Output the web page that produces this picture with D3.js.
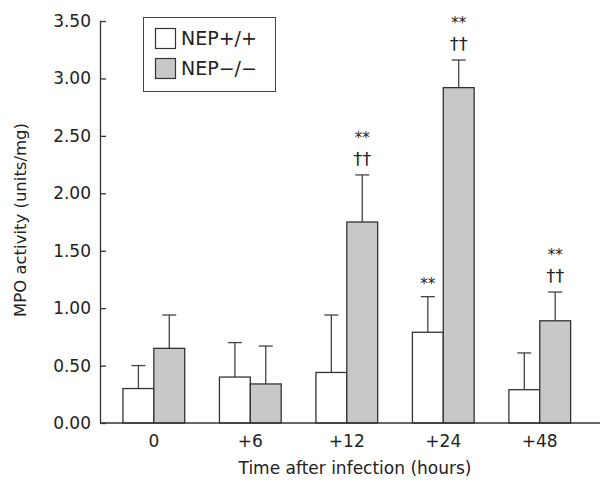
<!DOCTYPE html>
<html>
<head>
<meta charset="utf-8">
<script src="https://cdn.jsdelivr.net/npm/d3@7"></script>
<style>
  body { margin: 0; background: #fff; }
  text { font-family: "DejaVu Sans", sans-serif; fill: #222; }
</style>
</head>
<body>
<script>
const categories = ["0", "+6", "+12", "+24", "+48"];
const seriesNames = ["NEP+/+", "NEP\u2212/\u2212"];
const wildMeans = [0.30, 0.40, 0.44, 0.79, 0.29];
const wildErrors = [0.20, 0.30, 0.50, 0.31, 0.32];
const knockMeans = [0.65, 0.34, 1.75, 2.92, 0.89];
const knockErrors = [0.29, 0.33, 0.41, 0.24, 0.25];
const wildStars = ["", "", "", "**", ""];
const knockStars = ["", "", "**", "**", "**"];
const knockDaggers = ["", "", "\u2020\u2020", "\u2020\u2020", "\u2020\u2020"];
const yTicks = [0, 0.5, 1, 1.5, 2, 2.5, 3, 3.5];

const width = 600;
const height = 482;
const fills = ["#ffffff", "#c8c8c9"];

const svg = d3.select("body").append("svg")
  .attr("width", width)
  .attr("height", height);

const y = d3.scaleLinear().domain([0, 3.5]).range([423, 21]);

const x = d3.scaleBand()
  .domain(categories)
  .range([105.6, 588])
  .paddingInner(0.36)
  .paddingOuter(0.18);

const sub = d3.scaleBand()
  .domain([0, 1])
  .range([0, x.bandwidth()]);

const rows = [];
categories.forEach((c, i) => {
  rows.push({ cat: c, s: 0, v: wildMeans[i], e: wildErrors[i], stars: wildStars[i], dag: "" });
  rows.push({ cat: c, s: 1, v: knockMeans[i], e: knockErrors[i], stars: knockStars[i], dag: knockDaggers[i] });
});

const cx = d => x(d.cat) + sub(d.s) + sub.bandwidth() / 2;
const cap = d => y(d.v + d.e);

const g = svg.append("g");

// error bars (drawn first so the bar covers the lower part)
const err = g.selectAll("g.err").data(rows).join("g").attr("class", "err");
err.append("line")
  .attr("x1", cx).attr("x2", cx)
  .attr("y1", d => y(d.v))
  .attr("y2", cap)
  .attr("stroke", "#444")
  .attr("stroke-width", 1.3);
err.append("line")
  .attr("x1", d => cx(d) - 7)
  .attr("x2", d => cx(d) + 7)
  .attr("y1", cap).attr("y2", cap)
  .attr("stroke", "#444")
  .attr("stroke-width", 1.3);

g.selectAll("rect.bar").data(rows).join("rect")
  .attr("class", "bar")
  .attr("x", d => x(d.cat) + sub(d.s))
  .attr("y", d => y(d.v))
  .attr("width", sub.bandwidth())
  .attr("height", d => y(0) - y(d.v))
  .attr("fill", d => fills[d.s])
  .attr("stroke", "#333")
  .attr("stroke-width", 1.3);

// significance marks
g.selectAll("text.dag").data(rows.filter(d => d.dag)).join("text")
  .attr("class", "dag")
  .attr("text-anchor", "middle")
  .attr("font-size", 18)
  .attr("x", cx)
  .attr("y", d => cap(d) - 10)
  .text(d => d.dag);

g.selectAll("text.star").data(rows.filter(d => d.stars)).join("text")
  .attr("class", "star")
  .attr("text-anchor", "middle")
  .attr("font-size", 15)
  .attr("x", cx)
  .attr("y", d => cap(d) - (d.dag ? 32 : 7.5))
  .text(d => d.stars);

// y axis
const yAxis = d3.axisLeft(y)
  .tickValues(yTicks)
  .tickFormat(d3.format(".2f"))
  .tickSizeInner(-6)
  .tickSizeOuter(0)
  .tickPadding(9);
const ya = svg.append("g").attr("transform", "translate(100,0)").call(yAxis);
ya.selectAll("text").attr("font-size", 17).attr("fill", "#222");
ya.selectAll("line, path").attr("stroke", "#333").attr("stroke-width", 1.3);

// x axis
const xa = svg.append("g").attr("transform", `translate(0,${y(0)})`);
xa.append("line").attr("x1", 100).attr("x2", 600)
  .attr("stroke", "#333").attr("stroke-width", 1.3);
xa.selectAll("text").data(categories).join("text")
  .attr("x", d => x(d) + x.bandwidth() / 2)
  .attr("y", 24)
  .attr("text-anchor", "middle")
  .attr("font-size", 17)
  .text(d => d);

svg.append("text")
  .attr("x", 355).attr("y", 474)
  .attr("text-anchor", "middle")
  .attr("font-size", 17)
  .text("Time after infection (hours)");

svg.append("text")
  .attr("transform", "translate(26,220) rotate(-90)")
  .attr("text-anchor", "middle")
  .attr("font-size", 16.5)
  .text("MPO activity (units/mg)");

// legend
const lg = svg.append("g");
lg.append("rect").attr("x", 143.5).attr("y", 17.5).attr("width", 132).attr("height", 74)
  .attr("fill", "#fff").attr("stroke", "#444").attr("stroke-width", 1);
seriesNames.forEach((n, i) => {
  lg.append("rect")
    .attr("x", 155.5).attr("y", 28.5 + i * 30)
    .attr("width", 20).attr("height", 20)
    .attr("fill", fills[i]).attr("stroke", "#333").attr("stroke-width", 1.2);
  lg.append("text")
    .attr("x", 181).attr("y", 45 + i * 30)
    .attr("font-size", 19)
    .text(n);
});
</script>
</body>
</html>
